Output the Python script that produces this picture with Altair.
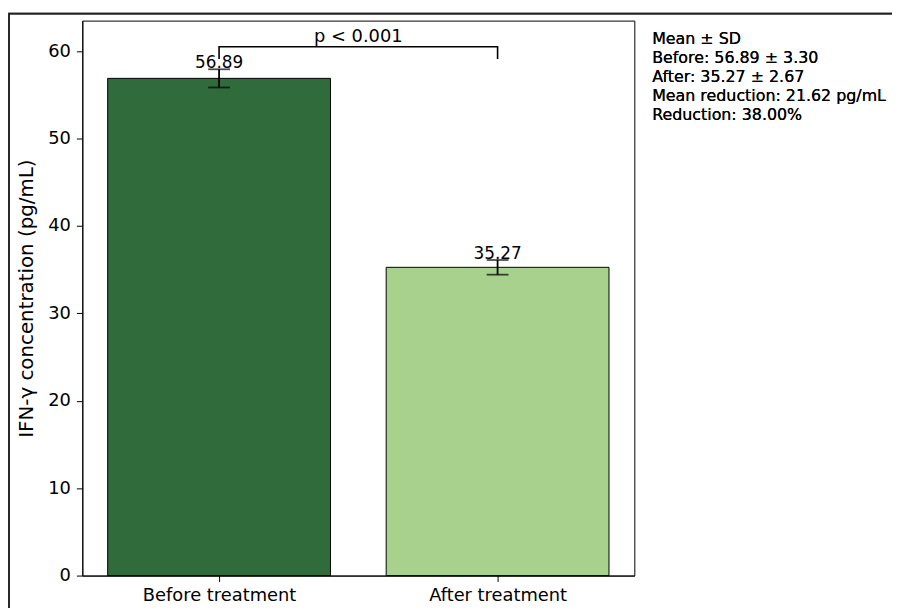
import altair as alt
import pandas as pd

# ---- data ----
groups = ["Before treatment", "After treatment"]
positions = [0, 1]
means = [56.89, 35.27]
errs = [1.04, 0.84]
bar_colors = ["#2f6b3b", "#a8d18e"]
value_labels = ["56.89", "35.27"]

bracket_top = 60.5
bracket_drop = 59.1
p_label = "p < 0.001"
p_label_y = 61.05

stats_lines = [
    "Mean \u00b1 SD",
    "Before: 56.89 \u00b1 3.30",
    "After: 35.27 \u00b1 2.67",
    "Mean reduction: 21.62 pg/mL",
    "Reduction: 38.00%",
]

y_ticks = [0, 10, 20, 30, 40, 50, 60]
y_max = 63.5
x_min, x_max = -0.491, 1.491

FONT = "DejaVu Sans"

df = pd.DataFrame({
    "group": groups,
    "pos": positions,
    "mean": means,
    "err": errs,
    "color": bar_colors,
    "label": value_labels,
})

label_expr = "[" + ",".join("'" + g + "'" for g in groups) + "][datum.value]"

xs = alt.Scale(domain=[x_min, x_max], nice=False, zero=False)
ys = alt.Scale(domain=[0, y_max], nice=False)

x_axis = alt.Axis(values=positions, labelExpr=label_expr, title=None,
                  labelPadding=5, grid=False)
y_axis = alt.Axis(values=y_ticks, title="IFN-\u03b3 concentration (pg/mL)",
                  labelPadding=6, titlePadding=11, titleFontSize=20, grid=False)

base = alt.Chart(df).transform_calculate(
    x0="datum.pos - 0.4",
    x1="datum.pos + 0.4",
    lo="datum.mean - datum.err",
    hi="datum.mean + datum.err",
)

bars = base.mark_bar(stroke="black", strokeWidth=1).encode(
    x=alt.X("x0:Q", scale=xs, axis=x_axis),
    x2="x1:Q",
    y=alt.Y("mean:Q", scale=ys, axis=y_axis),
    y2=alt.datum(0),
    color=alt.Color("color:N", scale=None),
)

err_rule = base.mark_rule(color="black", strokeWidth=1.8).encode(
    x=alt.X("pos:Q", scale=xs),
    y=alt.Y("lo:Q", scale=ys),
    y2="hi:Q",
)

caps_lo = base.mark_tick(color="black", orient="horizontal", size=22, thickness=1.8).encode(
    x=alt.X("pos:Q", scale=xs),
    y=alt.Y("lo:Q", scale=ys),
)
caps_hi = base.mark_tick(color="black", orient="horizontal", size=22, thickness=1.8).encode(
    x=alt.X("pos:Q", scale=xs),
    y=alt.Y("hi:Q", scale=ys),
)

value_text = base.mark_text(baseline="alphabetic", dy=-1, fontSize=17, font=FONT,
                            color="black").encode(
    x=alt.X("pos:Q", scale=xs),
    y=alt.Y("hi:Q", scale=ys),
    text="label:N",
)

bracket_df = pd.DataFrame({
    "pos": [positions[0], positions[0], positions[1], positions[1]],
    "y": [bracket_drop, bracket_top, bracket_top, bracket_drop],
    "order": [0, 1, 2, 3],
})
bracket = alt.Chart(bracket_df).mark_line(color="black", strokeWidth=1.6).encode(
    x=alt.X("pos:Q", scale=xs),
    y=alt.Y("y:Q", scale=ys),
    order="order:Q",
)

p_df = pd.DataFrame({"pos": [(positions[0] + positions[1]) / 2], "y": [p_label_y], "text": [p_label]})
p_text = alt.Chart(p_df).mark_text(baseline="alphabetic", fontSize=18, font=FONT,
                                   color="black").encode(
    x=alt.X("pos:Q", scale=xs),
    y=alt.Y("y:Q", scale=ys),
    text="text:N",
)

stats_text = alt.Chart(df).mark_text(align="left", baseline="alphabetic", fontSize=16,
                                     lineHeight=19, font=FONT, color="black").encode(
    x=alt.value(575),
    y=alt.value(24),
    text=alt.value(stats_lines),
)

frame = alt.Chart(df).mark_rect(fill="transparent", stroke="#222222", strokeWidth=1.6).encode(
    x=alt.value(-74),
    x2=alt.value(1000),
    y=alt.value(-7),
    y2=alt.value(800),
)

chart = alt.layer(
    bars, err_rule, caps_lo, caps_hi, value_text, bracket, p_text, stats_text, frame
).properties(
    width=557,
    height=560,
    autosize=alt.AutoSizeParams(type="none"),
    padding={"left": 75, "top": 10, "right": 260, "bottom": 30},
).configure_view(
    stroke="black", strokeWidth=1
).configure_axis(
    labelFont=FONT, labelFontSize=18, labelColor="black",
    titleFont=FONT, titleFontSize=17, titleFontWeight="normal", titleColor="black",
    domainColor="black", tickColor="black", tickSize=6, domainWidth=1, tickWidth=1,
)

chart.save("out.html", embed_options={"renderer": "svg", "actions": False})
